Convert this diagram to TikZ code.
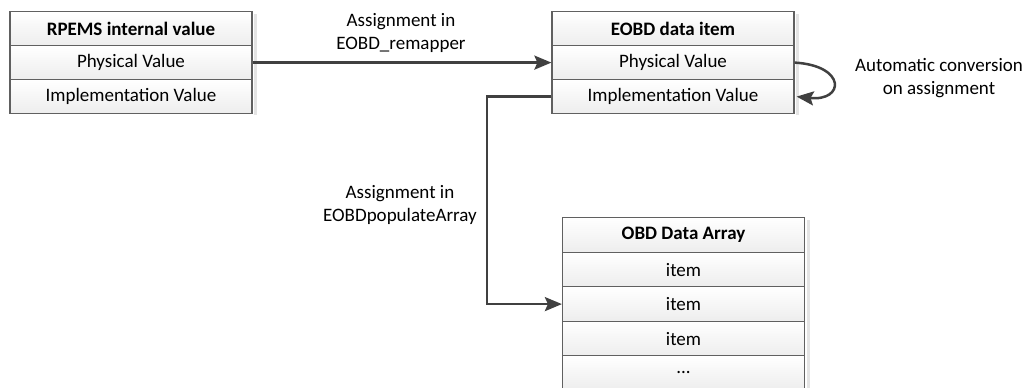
\documentclass[tikz,border=0pt]{standalone}
\usepackage{fontspec}
\setmainfont{Carlito}
\usetikzlibrary{arrows.meta,shadings}
\definecolor{boxline}{HTML}{606060}
\definecolor{arrowc}{HTML}{404040}
\definecolor{shadowc}{HTML}{E4E4E4}
\newcommand{\fs}{\fontsize{19}{23}\selectfont}
\tikzset{
  cell/.style={draw=boxline, line width=1.2pt, top color=white, bottom color=gray!14,
    minimum width=242pt, minimum height=34pt, inner sep=0pt, font=\fs, anchor=north},
  hcell/.style={cell, font=\fs\bfseries},
  conn/.style={draw=arrowc, line width=2.5pt, -{Stealth[length=17pt,width=14pt,inset=3pt]}},
  lbl/.style={font=\fs, align=center, inner sep=0pt}
}
\begin{document}
\begin{tikzpicture}[x=1pt,y=-1pt]
\useasboundingbox (0,0) rectangle (1029,388);
% shadows
\fill[shadowc] (254,14) rectangle (257,115);
\fill[shadowc] (796,14) rectangle (799,115);
\fill[shadowc] (807,220) rectangle (810,392);
% box 1
\node[hcell, minimum height=34pt] (r0) at (131,11) {RPEMS internal value};
\node[cell] (r1) at (131,45) {Physical Value};
\node[cell] (r2) at (131,79) {Implementation Value};
% box 2
\node[hcell] (e0) at (673,11) {EOBD data item};
\node[cell] (e1) at (673,45) {Physical Value};
\node[cell] (e2) at (673,79) {Implementation Value};
% box 3
\node[hcell, minimum height=35pt] (o0) at (683.5,217) {OBD Data Array};
\node[cell] (o1) at (683.5,252) {item};
\node[cell, minimum height=35pt] (o2) at (683.5,286) {item};
\node[cell] (o3) at (683.5,321) {item};
\node[cell] (o4) at (683.5,355) {...};
% labels
\node[lbl] (l1) at (401,33) {Assignment in\\EOBD\_remapper};
\node[lbl] (l2) at (400,205) {Assignment in\\EOBDpopulateArray};
\node[lbl] (l3) at (939,78) {Automatic conversion\\on assignment};
% connectors
\draw[conn] (r1.east) -- (e1.west);
\coordinate (bend) at (487,0);
\draw[conn] (e2.west) -- (e2.west -| bend) -- (o2.west -| bend) -- (o2.west);
\draw[conn] (e1.east) .. controls ([xshift=52pt,yshift=-3pt]e1.east) and ([xshift=50pt,yshift=-5pt]e2.east) .. ([xshift=2pt]e2.east);
\end{tikzpicture}
\end{document}
